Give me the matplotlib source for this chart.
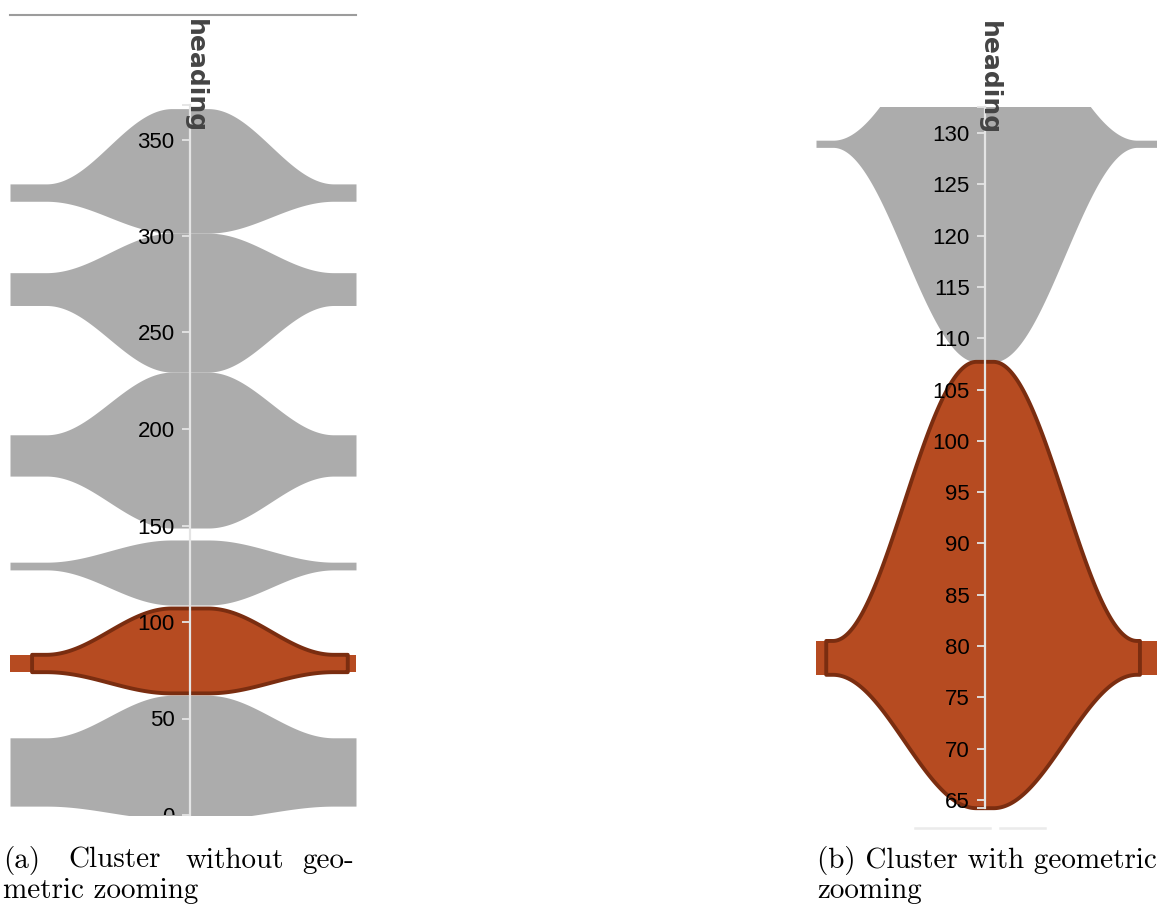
import numpy as np
import matplotlib
matplotlib.use("Agg")
import matplotlib.pyplot as plt

# cluster bands on the "heading" axis: value range at the axis and at the panel edges
left_axis_top = [366, 301.5, 229.5, 142.5, 107, 62]
left_axis_bot = [301.5, 229.5, 148.7, 108.8, 63, -2]
left_edge_top = [327, 281, 197, 131, 83, 40]
left_edge_bot = [318, 264, 175.6, 127, 74, 4.6]
left_selected = 4

right_axis_top = [143, 107.7]
right_axis_bot = [107.7, 64.2]
right_edge_top = [129.3, 80.5]
right_edge_bot = [128.6, 77.2]
right_selected = 1

left_ticks = [0, 50, 100, 150, 200, 250, 300, 350]
right_ticks = [65, 70, 75, 80, 85, 90, 95, 100, 105, 110, 115, 120, 125, 130]
axis_name = "heading"

GRAY = "#acacac"
ORANGE = "#b64b21"
DARK = "#7a2d10"
AXIS = "#e4e4e4"

W, H = 1157, 911
fig = plt.figure(figsize=(W / 100, H / 100), dpi=100)


def px_axes(x0, y0, x1, y1):
    return fig.add_axes([x0 / W, 1 - y1 / H, (x1 - x0) / W, (y1 - y0) / H])


def bulge(t, a, b):
    d = np.abs(t)
    w = 0.5 * (1 + np.cos(np.pi * (d - a) / (b - a)))
    w[d <= a] = 1.0
    w[d >= b] = 0.0
    return w


def draw_panel(ax, xmax, ylim, a, b, at, ab, et, eb, sel, box_l, box_r, ticks, bounds):
    ax.set_xlim(-1, xmax)
    ax.set_ylim(*ylim)
    t = np.linspace(-1, xmax, 800)
    w = bulge(t, a, b)
    for i in range(len(at)):
        top = et[i] + (at[i] - et[i]) * w
        bot = eb[i] + (ab[i] - eb[i]) * w
        if i != sel:
            ax.fill_between(t, bot, top, color=GRAY, lw=0, zorder=1)
        else:
            # thin strips outside the outlined shape
            m = (t <= box_l) | (t >= box_r)
            ax.fill_between(t, bot, top, where=m, color=ORANGE, lw=0, zorder=1)
            k = (t >= box_l) & (t <= box_r)
            xs = np.concatenate([t[k], t[k][::-1]])
            ys = np.concatenate([top[k], bot[k][::-1]])
            ax.fill(xs, ys, facecolor=ORANGE, edgecolor=DARK, lw=2.8,
                    joinstyle="round", zorder=2)

    for s in ["right", "top", "bottom"]:
        ax.spines[s].set_visible(False)
    ax.spines["left"].set_position(("data", 0))
    ax.spines["left"].set_color(AXIS)
    ax.spines["left"].set_linewidth(1.6)
    ax.spines["left"].set_bounds(*bounds)
    ax.spines["left"].set_zorder(3)
    ax.set_axisbelow(False)
    ax.yaxis.set_zorder(3)
    ax.set_xticks([])
    ax.set_yticks(ticks)
    ax.set_yticks(list(bounds), minor=True)
    ax.tick_params(axis="y", which="both", direction="out", length=6, width=1.3,
                   color=AXIS, labelsize=16, labelcolor="black", pad=5)
    for lbl in ax.get_yticklabels():
        lbl.set_fontfamily("Liberation Sans")
        lbl.set_clip_on(True)
        lbl.set_clip_box(ax.bbox)
    ax.patch.set_visible(False)


# (a) without geometric zooming
ax1 = px_axes(10, 15, 356, 815)
draw_panel(ax1, 166 / 180, (0, 800 / 1.93), 0.1, 0.8,
           left_axis_top, left_axis_bot, left_edge_top, left_edge_bot, left_selected,
           -0.878, 0.878, left_ticks, (0, 368))
ax1.axhline(800 / 1.93, color="#9c9c9c", lw=1.5, clip_on=False, zorder=4)
ax1.text(-0.04, 412.5, axis_name, rotation=-90, ha="left", va="top",
         fontsize=18, fontweight="bold", color="#444444", zorder=5,
         family="DejaVu Sans", clip_on=False)

# (b) with geometric zooming
ax2 = px_axes(816, 107, 1157, 815)
draw_panel(ax2, 172 / 169, (65 - 15 / 10.26, 130 + 26 / 10.26), 0.05, 0.9,
           right_axis_top, right_axis_bot, right_edge_top, right_edge_bot, right_selected,
           -0.94, 0.917, right_ticks, (64.2, 130 + 26 / 10.26))
ax2.text(-0.05, 140.9, axis_name, rotation=-90, ha="left", va="top",
         fontsize=18, fontweight="bold", color="#444444", zorder=5,
         family="DejaVu Sans", clip_on=False)
# faint scrollbar pieces under the zoomed axis
for x0, x1 in [(-0.414, 0.03), (0.089, 0.355)]:
    ax2.plot([x0, x1], [62.27, 62.27], color="#ebebeb", lw=1.8, clip_on=False)

# captions
cap = dict(family="cmr10", fontsize=21, color="black", va="baseline")
for word, x in [("(a)", 3), ("Cluster", 68), ("without", 185), ("geo-", 302)]:
    fig.text(x / W, 1 - 868 / H, word, **cap)
fig.text(3 / W, 1 - 898 / H, "metric zooming", **cap)
fig.text(817 / W, 1 - 868 / H, "(b) Cluster with geometric", **cap)
fig.text(817 / W, 1 - 898 / H, "zooming", **cap)

fig.savefig("out.png", dpi=100)
